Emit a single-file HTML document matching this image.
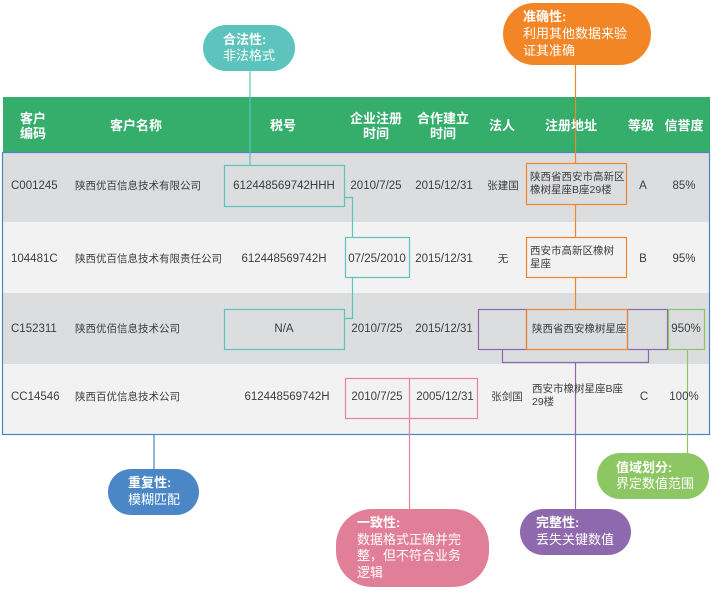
<!DOCTYPE html>
<html><head><meta charset="utf-8">
<style>
html,body{margin:0;padding:0;background:#fff;}
#c{position:relative;width:711px;height:591px;overflow:hidden;background:#fff;font-family:"Liberation Sans","Noto Sans CJK SC",sans-serif;}
svg{position:absolute;left:0;top:0;}
.t{position:absolute;white-space:nowrap;color:#3d3d3d;font-size:11.5px;line-height:14px;}
.cj{font-size:10.5px;}
.c{transform:translateX(-50%);text-align:center;}
.h{position:absolute;white-space:nowrap;color:#fff;font-weight:bold;font-size:13px;line-height:15px;text-align:center;transform:translateX(-50%);}
.b{position:absolute;white-space:nowrap;color:#fff;font-size:13px;line-height:16.5px;}
.b b{font-weight:bold;}
</style></head><body>
<div id="c">
<svg width="711" height="591" viewBox="0 0 711 591">
  <!-- header -->
  <rect x="3" y="97" width="707" height="55" fill="#35ad6b"/>
  <!-- rows -->
  <rect x="3" y="152" width="706" height="70" fill="#dcdddf"/>
  <rect x="3" y="222" width="706" height="71" fill="#f2f2f2"/>
  <rect x="3" y="293" width="706" height="71" fill="#dcdddf"/>
  <rect x="3" y="364" width="706" height="71" fill="#f2f2f2"/>
  <rect x="2.5" y="152.5" width="707" height="282" fill="none" stroke="#4a86c5" stroke-width="1.2"/>

  <!-- teal -->
  <g fill="none" stroke="#5cc4bc" stroke-width="1.2">
    <line x1="250" y1="71" x2="250" y2="165"/>
    <rect x="224.5" y="165.5" width="120" height="41"/>
    <path d="M344 197.5 H352.5 V237"/>
    <rect x="345.5" y="237.5" width="64" height="40"/>
    <path d="M352.5 277 V318.5 H344"/>
    <rect x="224.5" y="309.5" width="120" height="40"/>
  </g>
  <!-- purple -->
  <g fill="none" stroke="#8f69ad" stroke-width="1.2">
    <rect x="478.5" y="309.5" width="48" height="40"/>
    <rect x="627.5" y="309.5" width="40" height="40"/>
    <path d="M502.5 349 V362.5 H648.5 V349"/>
    <line x1="575.5" y1="362" x2="575.5" y2="510"/>
  </g>
  <!-- orange -->
  <g fill="none" stroke="#f0862a" stroke-width="1.2">
    <line x1="575.5" y1="64" x2="575.5" y2="163"/>
    <rect x="526.5" y="163.5" width="100" height="41"/>
    <line x1="575.5" y1="205" x2="575.5" y2="237"/>
    <rect x="526.5" y="237.5" width="100" height="40"/>
    <line x1="575.5" y1="278" x2="575.5" y2="309"/>
    <rect x="526.5" y="309.5" width="101" height="40"/>
  </g>
  <!-- green -->
  <g fill="none" stroke="#8cc764" stroke-width="1.2">
    <rect x="668.5" y="309.5" width="36" height="40"/>
    <line x1="687.5" y1="350" x2="687.5" y2="454"/>
  </g>
  <!-- pink -->
  <g fill="none" stroke="#e8819b" stroke-width="1.2">
    <rect x="345.5" y="378.5" width="132" height="40"/>
    <line x1="409.5" y1="378" x2="409.5" y2="510"/>
  </g>
  <!-- blue -->
  <line x1="154" y1="435" x2="154" y2="470" stroke="#4a86c5" stroke-width="1.2"/>

  <!-- bubbles -->
  <rect x="203" y="25" width="92" height="46" rx="23" fill="#5cc4bc"/>
  <rect x="503" y="3" width="148" height="62" rx="31" fill="#f28627"/>
  <rect x="108" y="469" width="91" height="46" rx="23" fill="#4b87c6"/>
  <rect x="336" y="509" width="153" height="78" rx="36" fill="#e27f98"/>
  <rect x="520" y="509" width="111" height="46" rx="23" fill="#8f69ad"/>
  <rect x="597" y="453" width="112" height="46" rx="23" fill="#8cc764"/>
</svg>

<!-- header text -->
<div class="h" style="left:33px;top:111px;">客户<br>编码</div>
<div class="h" style="left:136px;top:118px;">客户名称</div>
<div class="h" style="left:283px;top:118px;">税号</div>
<div class="h" style="left:376px;top:111px;">企业注册<br>时间</div>
<div class="h" style="left:443px;top:111px;">合作建立<br>时间</div>
<div class="h" style="left:502px;top:118px;">法人</div>
<div class="h" style="left:571px;top:118px;">注册地址</div>
<div class="h" style="left:641px;top:118px;">等级</div>
<div class="h" style="left:684px;top:118px;">信誉度</div>

<!-- row 1 -->
<div class="t" style="left:11px;top:179px;">C001245</div>
<div class="t cj" style="left:75px;top:179px;">陕西优百信息技术有限公司</div>
<div class="t c" style="left:284px;top:179px;">612448569742HHH</div>
<div class="t c" style="left:376px;top:179px;">2010/7/25</div>
<div class="t c" style="left:444px;top:179px;">2015/12/31</div>
<div class="t cj c" style="left:503px;top:179px;">张建国</div>
<div class="t cj" style="left:530px;top:171px;line-height:13px;">陕西省西安市高新区<br>橡树星座B座29楼</div>
<div class="t c" style="left:643px;top:179px;">A</div>
<div class="t c" style="left:684px;top:179px;">85%</div>

<!-- row 2 -->
<div class="t" style="left:11px;top:252px;">104481C</div>
<div class="t cj" style="left:75px;top:252px;">陕西优百信息技术有限责任公司</div>
<div class="t c" style="left:284px;top:252px;">612448569742H</div>
<div class="t c" style="left:377px;top:252px;">07/25/2010</div>
<div class="t c" style="left:444px;top:252px;">2015/12/31</div>
<div class="t cj c" style="left:503px;top:252px;">无</div>
<div class="t cj" style="left:530px;top:245px;line-height:13px;">西安市高新区橡树<br>星座</div>
<div class="t c" style="left:643px;top:252px;">B</div>
<div class="t c" style="left:684px;top:252px;">95%</div>

<!-- row 3 -->
<div class="t" style="left:11px;top:322px;">C152311</div>
<div class="t cj" style="left:75px;top:322px;">陕西优佰信息技术公司</div>
<div class="t c" style="left:284px;top:322px;">N/A</div>
<div class="t c" style="left:377px;top:322px;">2010/7/25</div>
<div class="t c" style="left:444px;top:322px;">2015/12/31</div>
<div class="t cj" style="left:532px;top:322px;">陕西省西安橡树星座</div>
<div class="t c" style="left:686px;top:322px;">950%</div>

<!-- row 4 -->
<div class="t" style="left:11px;top:390px;">CC14546</div>
<div class="t cj" style="left:75px;top:390px;">陕西百优信息技术公司</div>
<div class="t c" style="left:287px;top:390px;">612448569742H</div>
<div class="t c" style="left:377px;top:390px;">2010/7/25</div>
<div class="t c" style="left:445px;top:390px;">2005/12/31</div>
<div class="t cj c" style="left:507px;top:390px;">张剑国</div>
<div class="t cj" style="left:532px;top:383px;line-height:13px;">西安市橡树星座B座<br>29楼</div>
<div class="t c" style="left:644px;top:390px;">C</div>
<div class="t c" style="left:684px;top:390px;">100%</div>

<!-- bubble text -->
<div class="b" style="left:223px;top:32px;line-height:15.5px;"><b>合法性:</b><br>非法格式</div>
<div class="b" style="left:523px;top:8px;line-height:17px;"><b>准确性:</b><br>利用其他数据来验<br>证其准确</div>
<div class="b" style="left:128px;top:474px;line-height:17px;"><b>重复性:</b><br>模糊匹配</div>
<div class="b" style="left:357px;top:515px;line-height:16.5px;"><b>一致性:</b><br>数据格式正确并完<br>整，但不符合业务<br>逻辑</div>
<div class="b" style="left:536px;top:514px;line-height:17px;"><b>完整性:</b><br>丢失关键数值</div>
<div class="b" style="left:616px;top:460px;line-height:15.5px;"><b>值域划分:</b><br>界定数值范围</div>
</div>
</body></html>
